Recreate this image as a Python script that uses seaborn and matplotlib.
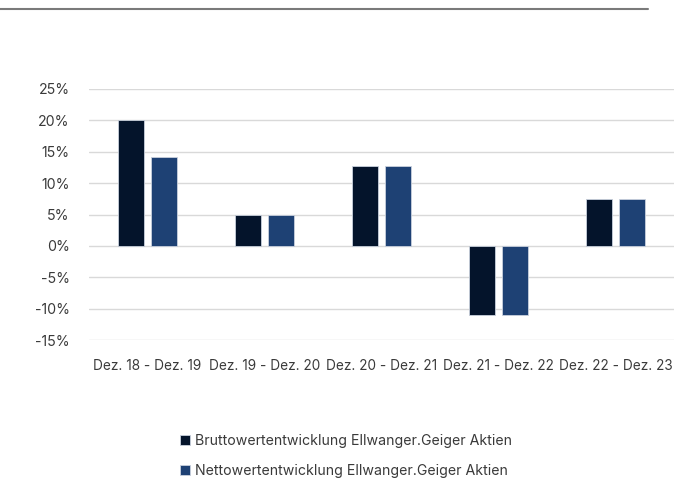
import matplotlib
matplotlib.use("Agg")
import matplotlib.pyplot as plt
from matplotlib.lines import Line2D
from matplotlib.ticker import FuncFormatter, MultipleLocator
import seaborn as sns
import pandas as pd

periods = ["Dez. 18 - Dez. 19", "Dez. 19 - Dez. 20", "Dez. 20 - Dez. 21",
           "Dez. 21 - Dez. 22", "Dez. 22 - Dez. 23"]
brutto = [20.0, 5.0, 12.8, -11.0, 7.4]
netto = [14.2, 5.0, 12.8, -11.0, 7.4]
series_names = ["Bruttowertentwicklung Ellwanger.Geiger Aktien",
                "Nettowertentwicklung Ellwanger.Geiger Aktien"]
colors = ["#04142B", "#1E4174"]

df = pd.DataFrame({
    "period": periods * 2,
    "value": brutto + netto,
    "series": [series_names[0]] * len(periods) + [series_names[1]] * len(periods),
})

sns.set_theme(style="white")
plt.rcParams["font.family"] = ["Inter", "DejaVu Sans"]

fig = plt.figure(figsize=(6.74, 4.78), dpi=100)
ax = fig.add_axes([89/674, 1 - 340/478, 1 - 89/674, (340 - 89)/478])

sns.barplot(data=df, x="period", y="value", hue="series", palette=colors,
            order=periods, hue_order=series_names, width=0.564, gap=0.213,
            saturation=1, edgecolor="#c9d1dd", linewidth=0.6, ax=ax, legend=True)

ax.set_ylim(-15, 25)
ax.set_xlim(-0.5, len(periods) - 0.5)
ax.yaxis.set_major_locator(MultipleLocator(5))
ax.yaxis.set_major_formatter(FuncFormatter(lambda v, p: f"{v:.0f}%"))
ax.grid(axis="y", color="#d9d9d9", linewidth=1.0)
ax.set_axisbelow(True)
for s in ax.spines.values():
    s.set_visible(False)
ax.set_xlabel("")
ax.set_ylabel("")
ax.tick_params(axis="x", length=0, pad=14, labelsize=9.8, labelcolor="#3a3a3a")
ax.tick_params(axis="y", length=0, pad=14, labelsize=10.2, labelcolor="#3a3a3a")

handles, labels = ax.get_legend_handles_labels()
ax.get_legend().remove()
fig.legend(handles, labels, loc="upper left", bbox_to_anchor=(167/674, 1 - 421/478),
           frameon=False, fontsize=10.2, labelcolor="#3a3a3a", handlelength=0.7,
           handleheight=0.7, handletextpad=0.4, labelspacing=1.15)

fig.add_artist(Line2D([0, 648/674], [1 - 9/478, 1 - 9/478], color="#7a7a7a", lw=1.5))

fig.savefig("out.png", dpi=100)
